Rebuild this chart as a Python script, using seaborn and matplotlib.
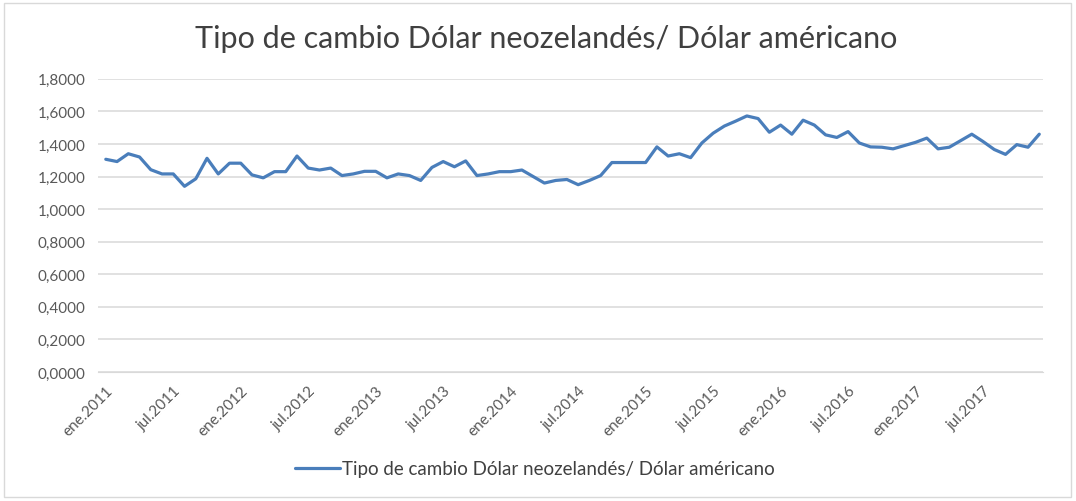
import numpy as np
import pandas as pd
import matplotlib
matplotlib.use("Agg")
import matplotlib.pyplot as plt
import seaborn as sns
from matplotlib.patches import Rectangle
from matplotlib.ticker import FuncFormatter

# Monthly exchange rate NZD / USD, Jan 2011 onwards
rate = [1.306, 1.292, 1.340, 1.320, 1.242, 1.216, 1.216, 1.140, 1.186, 1.312,
        1.216, 1.282, 1.282, 1.210, 1.192, 1.230, 1.230, 1.326, 1.252, 1.240,
        1.252, 1.206, 1.216, 1.232, 1.232, 1.192, 1.216, 1.206, 1.176, 1.256,
        1.292, 1.260, 1.296, 1.206, 1.216, 1.230, 1.230, 1.240, 1.200, 1.160,
        1.176, 1.182, 1.150, 1.176, 1.206, 1.286, 1.286, 1.286, 1.286, 1.382,
        1.326, 1.340, 1.316, 1.406, 1.466, 1.510, 1.540, 1.572, 1.556, 1.472,
        1.516, 1.460, 1.546, 1.516, 1.456, 1.440, 1.476, 1.406, 1.382, 1.380,
        1.370, 1.390, 1.410, 1.436, 1.370, 1.380, 1.420, 1.460, 1.415, 1.366,
        1.336, 1.396, 1.380, 1.460]

tick_labels = ["ene.2011", "jul.2011", "ene.2012", "jul.2012", "ene.2013",
               "jul.2013", "ene.2014", "jul.2014", "ene.2015", "jul.2015",
               "ene.2016", "jul.2016", "ene.2017", "jul.2017"]

series_name = "Tipo de cambio Dólar neozelandés/ Dólar américano"

df = pd.DataFrame({"mes": np.arange(len(rate)), "valor": rate})

sns.set_style("white")
plt.rcParams["font.family"] = ["Lato", "DejaVu Sans"]

fig = plt.figure(figsize=(10.76, 5.02), dpi=100)
ax = fig.add_axes([0.091, 0.257, 0.878, 0.584])

sns.lineplot(data=df, x="mes", y="valor", ax=ax, color="#4a7ebb",
             linewidth=2.3, label=series_name, legend=False)

ax.set_ylim(0, 1.8)
ax.set_yticks(np.arange(0, 1.81, 0.2))
ax.yaxis.set_major_formatter(FuncFormatter(lambda v, p: f"{v:.4f}".replace(".", ",")))
ax.set_xlim(-0.7, len(rate) - 0.7)
ax.set_xticks(np.arange(0, 6 * len(tick_labels), 6))
ax.set_xticklabels(tick_labels, rotation=45, ha="right", rotation_mode="anchor")

ax.grid(axis="y", color="#d9d9d9", linewidth=1.1)
ax.set_axisbelow(True)
for s in ["top", "right", "left"]:
    ax.spines[s].set_visible(False)
ax.spines["bottom"].set_color("#d9d9d9")
ax.tick_params(axis="y", length=0, pad=9, labelsize=11, labelcolor="#595959")
ax.tick_params(axis="x", length=0, pad=8, labelsize=11, labelcolor="#595959")
ax.set_xlabel("")
ax.set_ylabel("")

fig.suptitle(series_name, x=0.508, y=0.95, fontsize=22, color="#404040")

handles, labels = ax.get_legend_handles_labels()
fig.legend(handles, labels, loc="center", bbox_to_anchor=(0.497, 0.064),
           frameon=False, fontsize=13.5, labelcolor="#404040",
           handlelength=2.4, handletextpad=0.1)

fig.patches.append(Rectangle((0.004, 0.008), 0.991, 0.985, transform=fig.transFigure,
                             fill=False, edgecolor="#d9d9d9", linewidth=1))

plt.savefig("out.png", dpi=100)
